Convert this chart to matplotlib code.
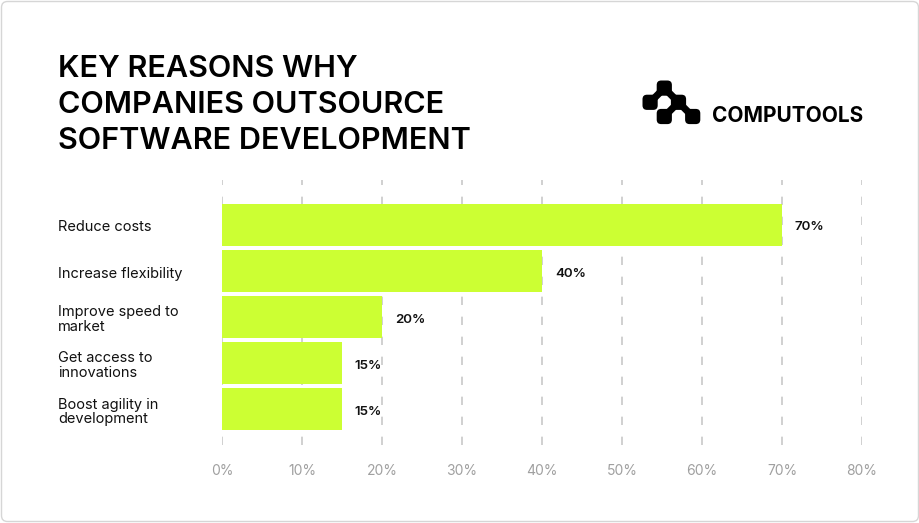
import numpy as np
import matplotlib.pyplot as plt
from matplotlib.patches import FancyBboxPatch, Polygon

plt.rcParams['font.family'] = ['Inter', 'DejaVu Sans']

categories = ["Reduce costs", "Increase flexibility", "Improve speed to\nmarket",
              "Get access to\ninnovations", "Boost agility in\ndevelopment"]
values = [70, 40, 20, 15, 15]
ticks = [0, 10, 20, 30, 40, 50, 60, 70, 80]
tick_labels = [f"{t}%" for t in ticks]
title = "KEY REASONS WHY\nCOMPANIES OUTSOURCE\nSOFTWARE DEVELOPMENT"

W, H = 920, 523
fig = plt.figure(figsize=(W / 100, H / 100), dpi=100)

# chart area
ax = fig.add_axes([222 / W, 1 - 445 / H, 640 / W, 265 / H])
y = np.arange(len(categories))
ax.barh(y, values, height=0.91, color="#ccff33", zorder=2)
ax.set_xlim(0, 80)
ax.set_ylim(4.78, -0.97)
for t in ticks:
    ax.axvline(t, color="#c8c8c8", lw=1.2, linestyle=(0, (5, 7)), zorder=1)
for yi, v in zip(y, values):
    ax.text(v + 1.6, yi + 0.06, f"{v}%", va="center", ha="left", fontsize=9.6,
            fontweight=600, color="#111111")
for s in ax.spines.values():
    s.set_visible(False)
ax.set_yticks([])
ax.set_xticks(ticks)
ax.set_xticklabels(tick_labels)
ax.tick_params(axis="x", length=0, pad=14, labelsize=10, labelcolor="#a0a0a0")
ax.patch.set_alpha(0)

# overlay in pixel coords for border
ov = fig.add_axes([0, 0, 1, 1], zorder=-1)
ov.set_xlim(0, W)
ov.set_ylim(H, 0)
ov.axis("off")
ov.add_patch(FancyBboxPatch((1.5, 1.5), W - 3, H - 3, boxstyle="round,pad=0,rounding_size=6",
                            fc="white", ec="#d6d6d6", lw=1))

fig.text(58 / W, 1 - 55 / H, title, ha="left", va="top", fontsize=22,
         fontweight="semibold", color="#000000", linespacing=1.37)

for yi, c in zip(y, categories):
    ax.text(-164 / 8, yi + 0.06, c, ha="left", va="center", fontsize=10.5,
            color="#111111", linespacing=1.05, clip_on=False)

# logo
ov2 = fig.add_axes([0, 0, 1, 1], zorder=5)
ov2.set_xlim(0, W)
ov2.set_ylim(H, 0)
ov2.axis("off")
cell = 14.2
x0, y0 = 643, 81
blocks = [(1, 0), (0, 1), (2, 1), (1, 2), (3, 2)]
for cx, cy in blocks:
    ov2.add_patch(FancyBboxPatch((x0 + cx * cell - 0.5, y0 + cy * cell - 0.5), cell + 1, cell + 1,
                                 boxstyle="round,pad=0,rounding_size=4.5", fc="#000000", ec="none"))
# diagonal joints between touching blocks
joints = [(1, 1), (2, 1), (2, 2), (3, 2)]
d = 5
for jx, jy in joints:
    px, py = x0 + jx * cell, y0 + jy * cell
    ov2.add_patch(Polygon([(px - d, py), (px, py - d), (px + d, py), (px, py + d)],
                          closed=True, fc="#000000", ec="none"))
ov2.text(712, 115.5, "COMPUTOOLS", ha="left", va="center", fontsize=15,
         fontweight="bold", color="#000000")

fig.savefig("out.png", dpi=100)
